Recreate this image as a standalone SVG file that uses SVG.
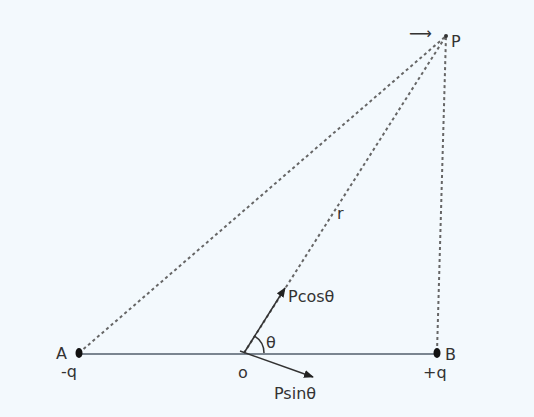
<svg xmlns="http://www.w3.org/2000/svg" width="534" height="417" viewBox="0 0 534 417">
<defs>
<marker id="ah" markerWidth="10" markerHeight="8" refX="9" refY="4" orient="auto" markerUnits="userSpaceOnUse">
<path d="M0,0 L10,4 L0,8 z" fill="#222"/>
</marker>
<style>
.t{font-family:"DejaVu Sans","Liberation Sans",sans-serif;font-size:16px;fill:#333}
.d{stroke:#666;stroke-width:2;stroke-dasharray:3,3;fill:none}
.s{stroke:#7a8590;stroke-width:2;fill:none}
.v{stroke:#333;stroke-width:1.5;fill:none}
</style>
</defs>
<rect width="534" height="417" fill="#f3f9fd"/>
<g id="connectors">
<line class="s" x1="79" y1="354" x2="437" y2="354"/>
<line class="d" x1="79" y1="353" x2="446" y2="36"/>
<line class="d" x1="244" y1="353" x2="446" y2="36"/>
<line class="d" x1="437" y1="352" x2="446" y2="36"/>
<line class="v" x1="244" y1="353" x2="285" y2="288" marker-end="url(#ah)"/>
<line class="v" x1="240" y1="351" x2="313" y2="377" marker-end="url(#ah)"/>
<path class="v" d="M264,353 A20,20 0 0 0 254.7,336.1"/>
</g>
<g id="P">
<circle cx="446" cy="36" r="2" fill="#333"/>
<text class="t" x="451" y="47" font-size="18">P</text>
<text class="t" x="409" y="39" font-size="17">⟶</text>
</g>
<g id="A">
<ellipse cx="79" cy="353" rx="3.5" ry="5" fill="#111"/>
<text class="t" x="56" y="359" font-size="17">A</text>
<text class="t" x="61" y="377" font-size="13">-q</text>
</g>
<g id="B">
<ellipse cx="437" cy="353" rx="3.5" ry="5" fill="#111"/>
<text class="t" x="445" y="360" font-size="17">B</text>
<text class="t" x="423" y="378" font-size="13">+q</text>
</g>
<g id="O">
<text class="t" x="238" y="378">o</text>
<text class="t" x="266" y="348">θ</text>
<text class="t" x="288" y="302">Pcosθ</text>
<text class="t" x="274" y="399">Psinθ</text>
</g>
<g id="r">
<text class="t" x="337" y="219">r</text>
</g>
</svg>
